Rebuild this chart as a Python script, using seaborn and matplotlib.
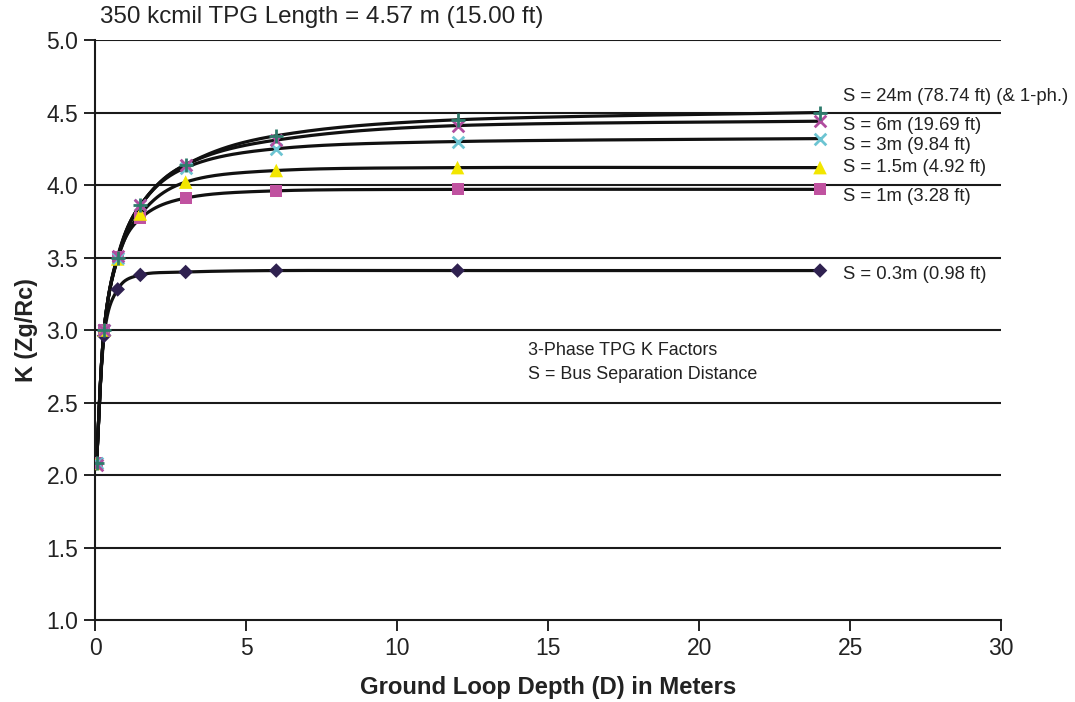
import numpy as np
import matplotlib
matplotlib.use("Agg")
import matplotlib.pyplot as plt
import seaborn as sns
import pandas as pd

# ---- data ----
depth = [0.05, 0.3, 0.75, 1.5, 3.0, 6.0, 12.0, 24.0]
k_s24 = [2.08, 3.00, 3.50, 3.86, 4.14, 4.34, 4.45, 4.50]
k_s6 = [2.07, 3.00, 3.51, 3.86, 4.14, 4.31, 4.41, 4.44]
k_s3 = [2.08, 3.00, 3.50, 3.86, 4.12, 4.25, 4.30, 4.32]
k_s15 = [2.08, 3.00, 3.49, 3.80, 4.02, 4.10, 4.12, 4.12]
k_s1 = [2.08, 3.00, 3.50, 3.77, 3.91, 3.96, 3.97, 3.97]
k_s03 = [2.08, 2.96, 3.28, 3.38, 3.40, 3.41, 3.41, 3.41]

series_labels = ["S = 24m (78.74 ft) (& 1-ph.)", "S = 6m (19.69 ft)", "S = 3m (9.84 ft)",
                 "S = 1.5m (4.92 ft)", "S = 1m (3.28 ft)", "S = 0.3m (0.98 ft)"]
series_values = [k_s24, k_s6, k_s3, k_s15, k_s1, k_s03]
markers = ["+", "x", "x", "^", "s", "D"]
colors = ["#2E7B6C", "#B04C9E", "#6CC4D2", "#F2E600", "#C052A0", "#2F2150"]
label_y = [4.61, 4.41, 4.275, 4.12, 3.92, 3.38]

sns.set_style("white")
plt.rcParams["font.family"] = ["Liberation Sans", "DejaVu Sans"]

fig = plt.figure(figsize=(10.75, 7.02), dpi=100)
ax = fig.add_axes([0.0884, 0.1168, 0.9314 - 0.0884, 0.943 - 0.1168])
ax.set_xlim(0, 30)
ax.set_ylim(1.0, 5.0)


def smooth(xs, ys, n=40):
    # Catmull-Rom style Bezier smoothing in display-ish (axes) space
    X = np.array(xs) / 30.0 * 906.0
    Y = np.array(ys) / 4.0 * 580.0
    P = np.column_stack([X, Y])
    out = []
    for i in range(len(P) - 1):
        p0 = P[i - 1] if i > 0 else P[i]
        p1 = P[i]
        p2 = P[i + 1]
        p3 = P[i + 2] if i + 2 < len(P) else P[i + 1]
        c1 = p1 + (p2 - p0) / 6.0
        c2 = p2 - (p3 - p1) / 6.0
        t = np.linspace(0, 1, n)[:, None]
        b = ((1 - t) ** 3) * p1 + 3 * ((1 - t) ** 2) * t * c1 + 3 * (1 - t) * t ** 2 * c2 + t ** 3 * p2
        out.append(b if i == 0 else b[1:])
    B = np.vstack(out)
    return B[:, 0] * 30.0 / 906.0, B[:, 1] * 4.0 / 580.0


for yv in np.arange(1.5, 5.01, 0.5):
    ax.axhline(yv, color="#1a1a1a", lw=1.5, zorder=1)

for lab, vals in zip(series_labels, series_values):
    sx, sy = smooth(depth, vals)
    df = pd.DataFrame({"x": sx, "y": sy})
    sns.lineplot(data=df, x="x", y="y", sort=False, estimator=None, color="#111111",
                 lw=2.3, ax=ax, zorder=2)

for lab, vals, m, c in reversed(list(zip(series_labels, series_values, markers, colors))):
    df = pd.DataFrame({"x": depth, "y": vals})
    size = {"+": 110, "x": 70, "^": 95, "s": 75, "D": 55}[m]
    kw = dict(linewidth=2.0) if m in "+x" else dict(linewidth=0)
    sns.scatterplot(data=df, x="x", y="y", marker=m, color=c, s=size, ax=ax, zorder=3,
                    edgecolor=c if m in "+x" else "none", **kw)

for lab, ly in zip(series_labels, label_y):
    ax.text(24.77, ly, lab, fontsize=13.3, color="#222222", va="center", ha="left",
            clip_on=False)

ax.text(14.33, 2.86, "3-Phase TPG K Factors", fontsize=12.9, color="#222222", va="center")
ax.text(14.33, 2.69, "S = Bus Separation Distance", fontsize=12.9, color="#222222", va="center")

fig.text(100 / 1075, 1 - 17 / 702, "350 kcmil TPG Length = 4.57 m (15.00 ft)", fontsize=17.4,
         color="#222222", va="center", ha="left")

ax.set_xticks(np.arange(0, 31, 5))
ax.set_yticks(np.arange(1.0, 5.01, 0.5))
ax.set_yticklabels([f"{v:.1f}" for v in np.arange(1.0, 5.01, 0.5)])
ax.tick_params(axis="both", labelsize=16.5, colors="#222222", length=8, width=1.4,
               direction="out", bottom=True, left=True, pad=4)
ax.set_xlabel("Ground Loop Depth (D) in Meters", fontsize=17.2, fontweight="bold", labelpad=12,
              color="#222222")
ax.set_ylabel("K (Zg/Rc)", fontsize=16.8, fontweight="bold", labelpad=6, color="#222222")
for sp in ["top", "right"]:
    ax.spines[sp].set_visible(False)
for sp in ["left", "bottom"]:
    ax.spines[sp].set_color("#1a1a1a")
    ax.spines[sp].set_linewidth(1.5)

fig.savefig("out.png", dpi=100)
